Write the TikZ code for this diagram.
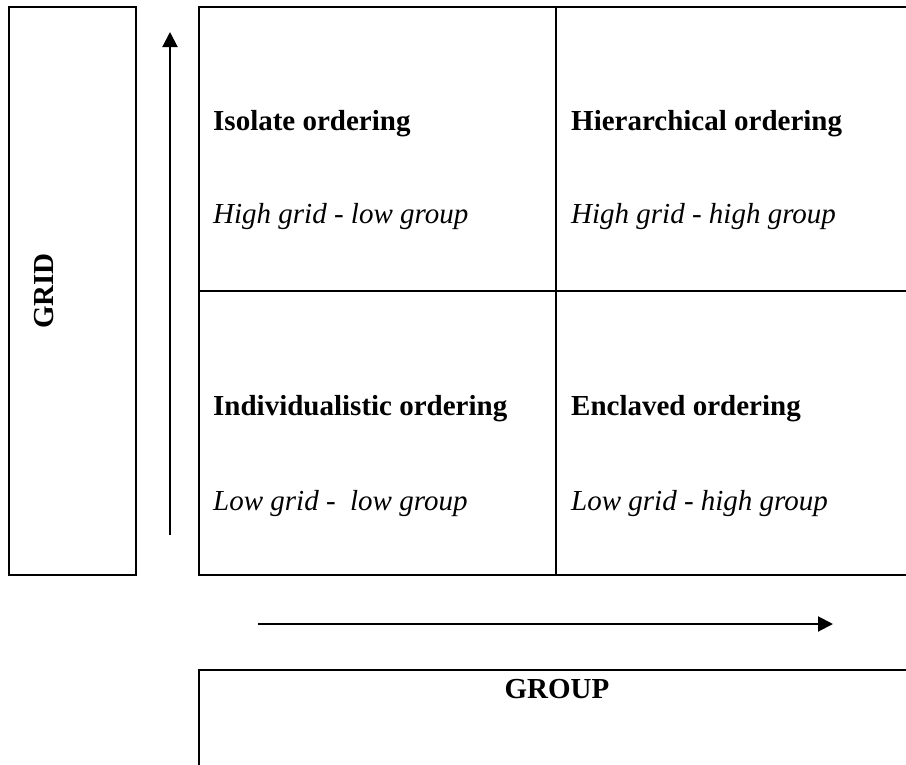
\documentclass[tikz,border=0pt]{standalone}
\usepackage{fontspec}
\setmainfont{Liberation Serif}
\usetikzlibrary{positioning, arrows.meta}

\begin{document}
\begin{tikzpicture}[x=1pt,y=-1pt]
\tikzstyle{frame} = [draw, line width=2pt, inner sep=0pt, outer sep=0pt]
\tikzstyle{cell} = [frame, minimum width=357pt, minimum height=284pt]
\tikzstyle{title} = [font=\fontsize{29}{34}\selectfont\bfseries, inner sep=0pt]
\tikzstyle{sub} = [font=\fontsize{29}{34}\selectfont\itshape, inner sep=0pt]
\tikzstyle{axis} = [line width=2pt, -{Triangle[length=15pt,width=15pt]}]

\useasboundingbox (0,0) rectangle (906,764);
\clip (0,0) rectangle (906,764);

% grid label
\node[frame, minimum width=127pt, minimum height=568pt] (gridbox) at (72.7,291) {};
\node[title, rotate=90, anchor=base] (gridlabel) at (53,291) {GRID};

% the four orderings
\node[cell, anchor=north west] (isolate) at (199,7) {};
\node[cell, right=0pt of isolate] (hier) {};
\node[cell, below=0pt of isolate] (indiv) {};
\node[cell, below=0pt of hier] (encl) {};

\node[title, anchor=base west] (isolatet) at ([xshift=14pt,yshift=-123pt]isolate.north west) {Isolate ordering};
\node[sub, anchor=base west] (isolates) at ([xshift=14pt,yshift=-216pt]isolate.north west) {High grid - low group};
\node[title, anchor=base west] (hiert) at ([xshift=15pt,yshift=-123pt]hier.north west) {Hierarchical ordering};
\node[sub, anchor=base west] (hiers) at ([xshift=15pt,yshift=-216pt]hier.north west) {High grid - high group};
\node[title, anchor=base west] (indivt) at ([xshift=14pt,yshift=-124pt]indiv.north west) {Individualistic ordering};
\node[sub, anchor=base west] (indivs) at ([xshift=14pt,yshift=-219pt]indiv.north west) {Low grid -\ \ low group};
\node[title, anchor=base west] (enclt) at ([xshift=15pt,yshift=-124pt]encl.north west) {Enclaved ordering};
\node[sub, anchor=base west] (encls) at ([xshift=15pt,yshift=-219pt]encl.north west) {Low grid - high group};

% axes
\coordinate (gridlow) at (170,535);
\coordinate (gridhigh) at (170,32);
\draw[axis] (gridlow) -- (gridhigh);
\coordinate (grouplow) at (258,624);
\coordinate (grouphigh) at (833,624);
\draw[axis] (grouplow) -- (grouphigh);

% group label
\node[frame, minimum width=714pt, minimum height=120pt, anchor=north west] (groupbox) at (199,670) {};
\node[title, anchor=base] (grouplabel) at (557,698) {GROUP};
\end{tikzpicture}
\end{document}
